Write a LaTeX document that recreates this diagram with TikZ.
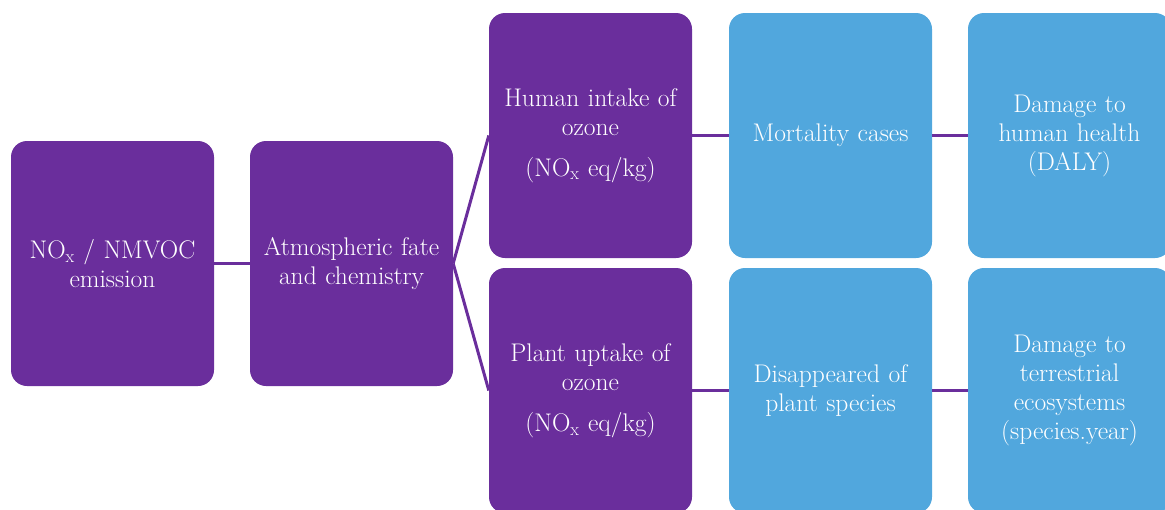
\documentclass[tikz,border=0pt]{standalone}
\usepackage{fontspec}
\definecolor{boxpurple}{RGB}{106,46,156}
\definecolor{boxblue}{RGB}{81,167,221}
\tikzset{
  box/.style={rectangle, rounded corners=16pt, minimum width=203pt, minimum height=245pt,
    text width=200pt, align=center, text=white, inner sep=0pt,
    font=\fontsize{25.5}{29}\selectfont},
  pbox/.style={box, fill=boxpurple},
  bbox/.style={box, fill=boxblue},
  link/.style={draw=boxpurple, line width=3pt},
}
\begin{document}
\begin{tikzpicture}[x=1pt,y=-1pt]
\useasboundingbox (0,0) rectangle (1165,509);
\clip (0,0) rectangle (1165,509);
\node[pbox] (emis) at (112.5,263.5) {NO\textsubscript{x} / NMVOC\\emission};
\node[pbox] (atm) at (351.5,263.5) {Atmospheric fate\\and chemistry};
\node[pbox] (hum) at (590.5,135.5) {Human intake of\\ozone\\[12pt](NO\textsubscript{x} eq/kg)};
\node[pbox] (pla) at (590.5,390.5) {Plant uptake of\\ozone\\[12pt](NO\textsubscript{x} eq/kg)};
\node[bbox] (mor) at (830.5,135.5) {Mortality cases};
\node[bbox] (dis) at (830.5,390.5) {Disappeared of\\plant species};
\node[bbox] (dhh) at (1069.5,135.5) {Damage to\\human health\\(DALY)};
\node[bbox] (dte) at (1069.5,390.5) {Damage to\\terrestrial\\ecosystems\\(species.year)};
\draw[link] (emis.east) -- (atm.west);
\draw[link] (atm.east) -- (hum.west);
\draw[link] (atm.east) -- (pla.west);
\draw[link] (hum.east) -- (mor.west);
\draw[link] (mor.east) -- (dhh.west);
\draw[link] (pla.east) -- (dis.west);
\draw[link] (dis.east) -- (dte.west);
\end{tikzpicture}
\end{document}
